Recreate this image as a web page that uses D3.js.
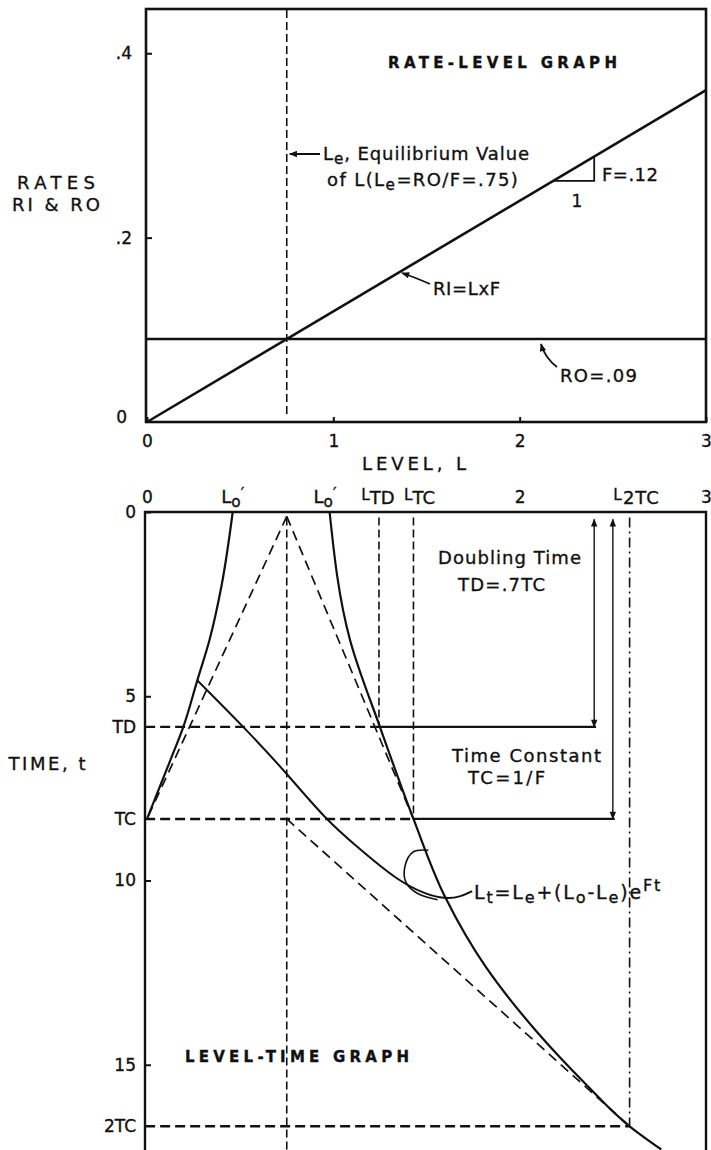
<!DOCTYPE html>
<html>
<head>
<meta charset="utf-8">
<script src="https://cdn.jsdelivr.net/npm/d3@7"></script>
<style>
  html, body { margin: 0; padding: 0; background: #fff; }
  svg { display: block; }
  text { font-family: "DejaVu Sans", sans-serif; fill: #111; stroke: #111; stroke-width: 0.35px; }
</style>
</head>
<body>
<svg id="chart" width="711" height="1150"></svg>
<script>
// ---- rate-level graph data ----
const levelTicks = [0, 1, 2, 3];
const rateTicks = [0.2, 0.4];
const rateTickLabels = ['.2', '.4'];
const F = 0.12;
const RO = 0.09;
const Le = 0.75;
const riLevels = [0, 3];
const riRates = [0, 0.36];
const slopeLevels = [2.18, 2.40];

// ---- level-time graph data ----
const topLevelTicks = [0, 2, 3];
const levelMarkLabels = ["o'", "o'", 'TD', 'TC', '2TC'];
const levelMarkValues = [0.46, 0.955, 1.245, 1.43, 2.59];
const timeTicks = [0, 5, 10, 15];
const timeMarkLabels = ['TD', 'TC', '2TC'];
const timeMarkValues = [5.83, 8.33, 16.67];

// curve below Le (starts at Lo')
const lowCurveL = [0.46, 0.40, 0.335, 0.27, 0.195, 0.125, 0];
const lowCurveT = [0, 2, 3.48, 4.57, 5.83, 6.74, 8.33];
// curve above Le (starts at Lo")
const highCurveL = [0.98, 1.09, 1.25, 1.43, 1.60, 1.82, 2.10, 2.35, 2.59, 2.76];
const highCurveT = [0, 3.48, 5.83, 8.33, 10.45, 12.36, 14.15, 15.5, 16.67, 17.3];
// curve leaving the lower curve
const transL = [0.268, 0.52, 0.74, 0.955, 1.149, 1.342, 1.492, 1.60, 1.68, 1.745];
const transT = [4.56, 5.84, 7.03, 8.33, 9.18, 9.99, 10.37, 10.50, 10.45, 10.29];
// callout loop onto the upper curve
const loopL = [1.51, 1.43, 1.385, 1.39, 1.455, 1.56];
const loopT = [9.18, 9.22, 9.60, 10.05, 10.36, 10.52];

const svg = d3.select('#chart');
svg.append('rect').attr('width', 711).attr('height', 1150).attr('fill', '#fff');

const defs = svg.append('defs');
defs.append('marker')
  .attr('id', 'arrow')
  .attr('viewBox', '0 0 10 10')
  .attr('refX', 9).attr('refY', 5)
  .attr('markerUnits', 'userSpaceOnUse')
  .attr('markerWidth', 9).attr('markerHeight', 8)
  .attr('orient', 'auto-start-reverse')
  .append('path').attr('d', 'M0,1 L10,5 L0,9 z').attr('fill', '#111');

const x = d3.scaleLinear().domain([0, 3]).range([147, 706]);
const yRate = d3.scaleLinear().domain([0, 0.448]).range([422, 9]);
const yTime = d3.scaleLinear().domain([0, 10]).range([512, 880.5]);

function label(x0, y0, txt, size, width, anchor, weight) {
  const t = svg.append('text')
    .attr('x', x0).attr('y', y0)
    .attr('font-size', size)
    .attr('font-weight', weight || null)
    .attr('text-anchor', anchor || 'start')
    .text(txt);
  if (width) t.attr('textLength', width).attr('lengthAdjust', 'spacing');
  return t;
}

// parts: [text, kind] where kind is null, 'sub', 'sup' or 'low'
function rich(x0, y0, parts, size, anchor, spacing) {
  const t = svg.append('text')
    .attr('x', x0).attr('y', y0)
    .attr('font-size', size)
    .attr('letter-spacing', spacing || 0)
    .attr('text-anchor', anchor || 'start');
  let shift = 0;
  parts.forEach(([s, kind]) => {
    const target = kind === 'sub' ? 4 : kind === 'sup' ? -8 : kind === 'low' ? -4 : 0;
    t.append('tspan')
      .attr('dy', target - shift)
      .attr('font-size', kind ? size * 0.85 : size)
      .text(s);
    shift = target;
  });
  return t;
}

// ================= RATE-LEVEL GRAPH =================
const rateG = svg.append('g');

// axes (ticks inside the frame)
const rateAxis = d3.axisLeft(yRate)
  .tickValues(rateTicks)
  .tickSizeInner(-6).tickSizeOuter(0).tickPadding(14)
  .tickFormat((d, i) => rateTickLabels[i]);
rateG.append('g').attr('transform', `translate(${x(0) - 1},0)`).call(rateAxis)
  .call(g => g.select('.domain').remove());

const levelAxis = d3.axisBottom(x)
  .tickValues(levelTicks)
  .tickSizeInner(-5).tickSizeOuter(0).tickPadding(13)
  .tickFormat(d3.format('d'));
rateG.append('g').attr('transform', `translate(0,${yRate(0)})`).call(levelAxis)
  .call(g => g.select('.domain').remove());

rateG.selectAll('.tick line').attr('stroke', '#111').attr('stroke-width', 2);
rateG.selectAll('.tick text').attr('font-family', '"DejaVu Sans", sans-serif')
  .attr('font-size', 17).attr('fill', '#111');

label(127, yRate(0) + 1, '0', 17, null, 'end');

// frame
rateG.append('rect')
  .attr('x', x(0) - 1).attr('y', yRate(0.448))
  .attr('width', x(3) - x(0) + 1).attr('height', yRate(0) - yRate(0.448))
  .attr('fill', 'none').attr('stroke', '#111').attr('stroke-width', 2.6);

// Le dashed
rateG.append('line')
  .attr('x1', x(Le)).attr('x2', x(Le))
  .attr('y1', yRate(0.447)).attr('y2', yRate(0.006))
  .attr('stroke', '#111').attr('stroke-width', 1.6).attr('stroke-dasharray', '8,4');

// RO line
rateG.append('line')
  .attr('x1', x(0)).attr('x2', x(3))
  .attr('y1', yRate(RO)).attr('y2', yRate(RO))
  .attr('stroke', '#111').attr('stroke-width', 2.6);

// RI line
rateG.append('path')
  .datum(riLevels.map((l, i) => [l, riRates[i]]))
  .attr('d', d3.line().x(d => x(d[0])).y(d => yRate(d[1])))
  .attr('fill', 'none').attr('stroke', '#111').attr('stroke-width', 2.6);

// slope triangle
rateG.append('path')
  .datum([[slopeLevels[0], slopeLevels[0] * F], [slopeLevels[1], slopeLevels[0] * F], [slopeLevels[1], slopeLevels[1] * F]])
  .attr('d', d3.line().x(d => x(d[0])).y(d => yRate(d[1])))
  .attr('fill', 'none').attr('stroke', '#111').attr('stroke-width', 1.8);

// annotations
label(388, 68, 'RATE-LEVEL GRAPH', 15, 229, 'start', 'bold');
label(56, 189, 'RATES', 18, 78, 'middle');
label(56, 211, 'RI & RO', 18, 88, 'middle');
label(414, 470, 'LEVEL, L', 18, 104, 'middle');

rateG.append('line')
  .attr('x1', 320).attr('x2', x(Le) + 3).attr('y1', 154).attr('y2', 154)
  .attr('stroke', '#111').attr('stroke-width', 2).attr('marker-end', 'url(#arrow)');
rich(323, 160, [['L', null], ['e', 'sub'], [', Equilibrium Value', null]], 18, 'start', 0.9);
rich(327, 186, [['of L(L', null], ['e', 'sub'], ['=RO/F=.75)', null]], 18, 'start', 1.4);

label(602, 181, 'F=.12', 18, 56);
label(577, 207, '1', 17, null, 'middle');

label(433, 295, 'RI=LxF', 18, 67);
rateG.append('path')
  .attr('d', 'M430,284 Q414,277 402,273')
  .attr('fill', 'none').attr('stroke', '#111').attr('stroke-width', 1.8)
  .attr('marker-end', 'url(#arrow)');

label(560, 382, 'RO=.09', 18, 77);
rateG.append('path')
  .attr('d', 'M557,367 Q545,358 541,344')
  .attr('fill', 'none').attr('stroke', '#111').attr('stroke-width', 1.8)
  .attr('marker-end', 'url(#arrow)');

// ================= LEVEL-TIME GRAPH =================
const timeG = svg.append('g');

const topAxis = d3.axisTop(x)
  .tickValues(topLevelTicks)
  .tickSize(0).tickPadding(9)
  .tickFormat(d3.format('d'));
timeG.append('g').attr('transform', `translate(0,${yTime(0)})`).call(topAxis)
  .call(g => g.select('.domain').remove());

const timeAxis = d3.axisLeft(yTime)
  .tickValues(timeTicks)
  .tickSizeInner(-6).tickSizeOuter(0).tickPadding(9)
  .tickFormat(d3.format('d'));
timeG.append('g').attr('transform', `translate(${x(0) - 2},0)`).call(timeAxis)
  .call(g => g.select('.domain').remove());

const markAxis = d3.axisLeft(yTime)
  .tickValues(timeMarkValues)
  .tickSize(0).tickPadding(9)
  .tickFormat((d, i) => timeMarkLabels[i]);
timeG.append('g').attr('transform', `translate(${x(0) - 2},0)`).call(markAxis)
  .call(g => g.select('.domain').remove());

timeG.selectAll('.tick line').attr('stroke', '#111').attr('stroke-width', 2);
timeG.selectAll('.tick text').attr('font-family', '"DejaVu Sans", sans-serif')
  .attr('font-size', 17).attr('fill', '#111');

// level mark labels along the top
rich(x(levelMarkValues[0]), 503, [['L', null], ['o', 'sub'], ['\u2032', 'low']], 18, 'middle');
rich(x(levelMarkValues[1]), 503, [['L', null], ['o', 'sub'], ['\u2032', 'low']], 18, 'middle');
rich(x(levelMarkValues[2]) - 1, 504, [['L', 'low'], [levelMarkLabels[2], null]], 18, 'middle');
rich(x(levelMarkValues[3]) + 6, 504, [['L', 'low'], [levelMarkLabels[3], null]], 18, 'middle');
rich(x(levelMarkValues[4]) + 7, 504, [['L', 'low'], [levelMarkLabels[4], null]], 18, 'middle', 1);

// frame (bottom edge is below the picture)
timeG.append('path')
  .attr('d', `M${x(0) - 2},1152 V${yTime(0)} H${x(3)} V1152`)
  .attr('fill', 'none').attr('stroke', '#111').attr('stroke-width', 2.4);

const lineLT = d3.line().x(d => x(d[0])).y(d => yTime(d[1]));
const smoothLT = d3.line().x(d => x(d[0])).y(d => yTime(d[1])).curve(d3.curveMonotoneY);
const basisLT = d3.line().x(d => x(d[0])).y(d => yTime(d[1])).curve(d3.curveBasis);
const loopLT = d3.line().x(d => x(d[0])).y(d => yTime(d[1])).curve(d3.curveCatmullRom.alpha(0.5));

function seg(l1, t1, l2, t2, width, dash) {
  return timeG.append('path')
    .datum([[l1, t1], [l2, t2]])
    .attr('d', lineLT)
    .attr('fill', 'none').attr('stroke', '#111')
    .attr('stroke-width', width)
    .attr('stroke-dasharray', dash || null);
}

// vertical reference lines
seg(Le, 0.15, Le, 17.5, 1.6, '8,4');
seg(levelMarkValues[2], 0.15, levelMarkValues[2], timeMarkValues[0], 1.6, '8,4');
seg(levelMarkValues[3], 0.15, levelMarkValues[3], timeMarkValues[1], 1.6, '8,4');
seg(levelMarkValues[4], 0.15, levelMarkValues[4], timeMarkValues[2], 1.6, '10,4,2,4');

// horizontal TD, TC, 2TC lines
seg(-0.01, timeMarkValues[0], levelMarkValues[2], timeMarkValues[0], 2.4, '10,5');
seg(levelMarkValues[2], timeMarkValues[0], 2.41, timeMarkValues[0], 2.2);
seg(-0.01, timeMarkValues[1], levelMarkValues[3], timeMarkValues[1], 2.4, '10,5');
seg(levelMarkValues[3], timeMarkValues[1], 2.51, timeMarkValues[1], 2.2);
seg(-0.01, timeMarkValues[2], levelMarkValues[4], timeMarkValues[2], 2.4, '10,5');

// double arrows for TD and TC
seg(2.40, 0.2, 2.40, timeMarkValues[0], 1.4).attr('marker-start', 'url(#arrow)').attr('marker-end', 'url(#arrow)');
seg(2.50, 0.2, 2.50, timeMarkValues[1], 1.4).attr('marker-start', 'url(#arrow)').attr('marker-end', 'url(#arrow)');

// tangent construction lines
seg(Le, 0.12, 0, timeMarkValues[1], 1.7, '10,6');
seg(Le, 0.12, levelMarkValues[3], timeMarkValues[1], 1.7, '10,6');
seg(Le, timeMarkValues[1], levelMarkValues[4], timeMarkValues[2], 1.7, '10,6');

// curves
timeG.append('path').datum(lowCurveL.map((l, i) => [l, lowCurveT[i]]))
  .attr('d', smoothLT).attr('fill', 'none').attr('stroke', '#111').attr('stroke-width', 2.2);
timeG.append('path').datum(highCurveL.map((l, i) => [l, highCurveT[i]]))
  .attr('d', smoothLT).attr('fill', 'none').attr('stroke', '#111').attr('stroke-width', 2.2);
timeG.append('path').datum(transL.map((l, i) => [l, transT[i]]))
  .attr('d', basisLT).attr('fill', 'none').attr('stroke', '#111').attr('stroke-width', 2);
timeG.append('path').datum(loopL.map((l, i) => [l, loopT[i]]))
  .attr('d', loopLT).attr('fill', 'none').attr('stroke', '#111').attr('stroke-width', 1.6);

// texts
label(47, 770, 'TIME, t', 18, 77, 'middle');
label(438, 564, 'Doubling Time', 18, 143);
label(458, 591, 'TD=.7TC', 18, 87);
label(452, 762, 'Time Constant', 18, 149);
label(468, 784, 'TC=1/F', 18, 77);
label(185, 1062, 'LEVEL-TIME GRAPH', 15, 224, 'start', 'bold');
rich(474, 899, [['L', null], ['t', 'sub'], ['=L', null], ['e', 'sub'], ['+(L', null], ['o', 'sub'], ['-L', null], ['e', 'sub'], [')e', null], ['Ft', 'sup']], 19, 'start', 1.8);
</script>
</body>
</html>
